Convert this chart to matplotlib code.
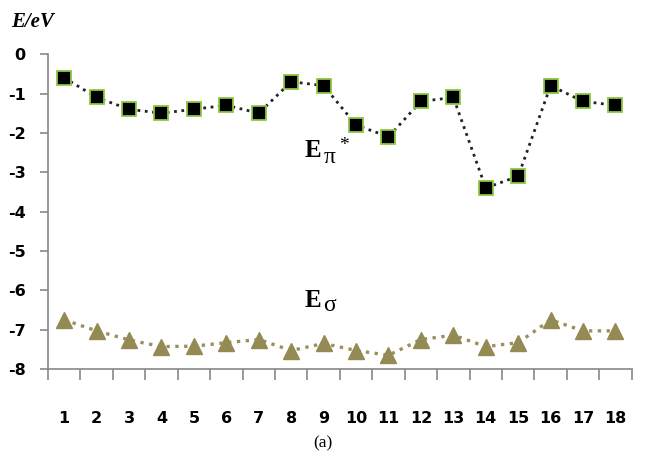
import matplotlib.pyplot as plt
import numpy as np

# data
labels = [str(i) for i in range(1, 19)]
e_pi = [-0.6, -1.1, -1.4, -1.5, -1.4, -1.3, -1.5, -0.7, -0.8, -1.8,
        -2.1, -1.2, -1.1, -3.4, -3.1, -0.8, -1.2, -1.3]
e_sigma = [-6.75, -7.03, -7.26, -7.43, -7.42, -7.33, -7.25, -7.53, -7.35, -7.53,
           -7.65, -7.25, -7.14, -7.43, -7.33, -6.75, -7.03, -7.03]
yticks = [0, -1, -2, -3, -4, -5, -6, -7, -8]

fig = plt.figure(figsize=(6.45, 4.59), dpi=100)
ax = fig.add_axes([0.0744, 0.196, 0.905, 0.686])

x = np.arange(1, len(labels) + 1)
ax.plot(x, e_pi, linestyle=':', color='#222222', linewidth=2,
        marker='s', markersize=10.5, markerfacecolor='black',
        markeredgecolor='#8DC63F', markeredgewidth=1.3)
ax.plot(x, e_sigma, linestyle=':', color='#9C8F5E', linewidth=2.4,
        marker='^', markersize=11, markerfacecolor='#948A54',
        markeredgecolor='#948A54')

ax.set_xlim(0.5, 18.5)
ax.set_ylim(-8, 0)
ax.set_yticks(yticks)
ax.set_yticklabels([str(v) for v in yticks])
ax.set_xticks(x)
ax.set_xticklabels(labels)
ax.set_xticks(np.arange(0.5, 19, 1), minor=True)

for s in ['top', 'right']:
    ax.spines[s].set_visible(False)
for s in ['left', 'bottom']:
    ax.spines[s].set_color('#888888')
    ax.spines[s].set_linewidth(1.2)

ax.tick_params(axis='y', direction='out', length=6, color='#888888', width=1.2, pad=10)
ax.tick_params(axis='x', which='major', length=0, pad=30)
ax.tick_params(axis='x', which='minor', direction='out', length=8, color='#888888', width=1.2)
for t in ax.get_xticklabels() + ax.get_yticklabels():
    t.set_fontfamily('DejaVu Sans')
    t.set_fontweight('bold')
    t.set_fontsize(11.5)

# series labels: bold E with upright greek subscript
serif = 'Liberation Serif'
ax.text(8.4, -2.45, 'E', fontsize=18, fontweight='bold', family=serif, va='center')
ax.annotate('π', xy=(8.4, -2.45), xytext=(14, -5), textcoords='offset points',
            fontsize=17, family=serif, va='center')
ax.annotate('*', xy=(8.4, -2.45), xytext=(25, 4), textcoords='offset points',
            fontsize=14, family=serif, va='center')
ax.text(8.4, -6.25, 'E', fontsize=18, fontweight='bold', family=serif, va='center')
ax.annotate('σ', xy=(8.4, -6.25), xytext=(14, -4), textcoords='offset points',
            fontsize=17, family=serif, va='center')

fig.text(0.018, 0.952, 'E/eV', fontsize=15, fontstyle='italic', fontweight='bold',
         family=serif, va='center')
fig.text(0.5, 0.035, '(a)', fontsize=12.5, family=serif, ha='center', va='center')

fig.savefig('out.png', dpi=100)
